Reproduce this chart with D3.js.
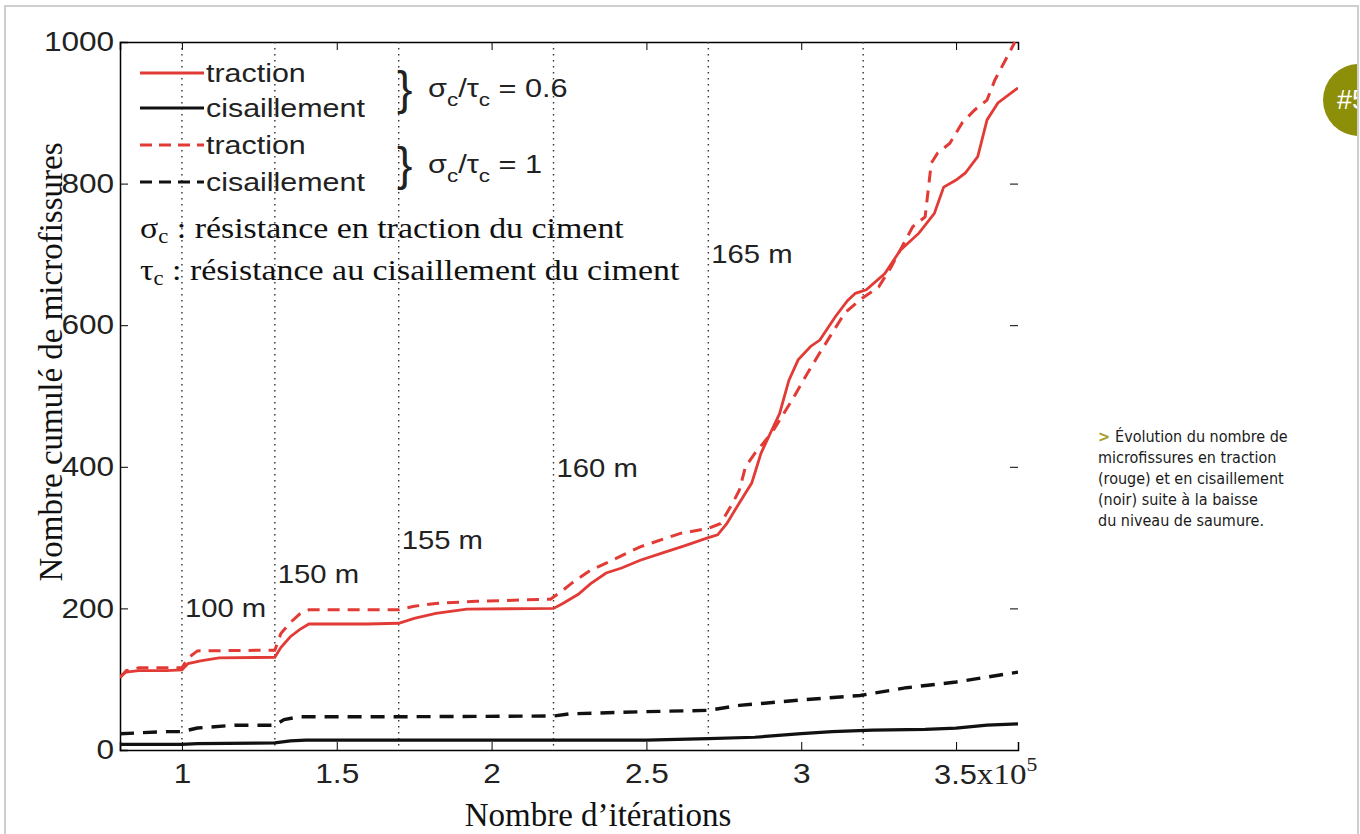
<!DOCTYPE html>
<html>
<head>
<meta charset="utf-8">
<title>Microfissures</title>
<script src="https://cdnjs.cloudflare.com/ajax/libs/d3/7.8.5/d3.min.js"></script>
<style>
  body { margin: 0; background: #fff; }
  .tick text { font-family: "Liberation Sans", Arial, sans-serif; }
</style>
</head>
<body>
<script>

// x en 1e5 itérations, y = nombre cumulé de microfissures
var tractionA = [[0.80,104],[0.82,110],[0.86,112],[0.95,112],[1.00,113],[1.02,122],[1.06,126],[1.12,130],[1.30,131],[1.32,145],[1.35,160],[1.38,170],[1.41,178],[1.60,178],[1.70,179],[1.75,186],[1.82,193],[1.92,199],[2.20,200],[2.23,207],[2.28,220],[2.32,235],[2.37,250],[2.42,257],[2.48,268],[2.55,278],[2.62,288],[2.70,300],[2.73,304],[2.76,320],[2.80,349],[2.84,377],[2.87,419],[2.905,452],[2.93,475],[2.96,522],[2.99,551],[3.03,570],[3.06,579],[3.11,612],[3.15,635],[3.175,645],[3.21,650],[3.27,673],[3.32,706],[3.38,730],[3.43,758],[3.46,795],[3.50,805],[3.53,815],[3.57,838],[3.60,890],[3.635,914],[3.69,932],[3.70,935]];
var cisailA = [[0.80,8],[1.00,8],[1.05,9],[1.30,10],[1.35,13],[1.40,14],[2.50,14],[2.70,16],[2.85,18],[3.00,23],[3.10,26],[3.23,28],[3.40,29],[3.50,31],[3.60,35],[3.70,37]];
var tractionB = [[0.80,102],[0.82,112],[0.86,116],[1.00,116],[1.02,130],[1.05,140],[1.30,141],[1.32,165],[1.35,180],[1.38,192],[1.41,198],[1.70,198],[1.75,203],[1.82,207],[1.95,210],[2.19,213],[2.22,222],[2.26,236],[2.32,254],[2.37,264],[2.48,287],[2.61,306],[2.70,313],[2.74,320],[2.78,350],[2.80,367],[2.82,400],[2.85,419],[2.905,448],[2.97,494],[3.02,532],[3.06,561],[3.10,589],[3.14,617],[3.19,636],[3.25,654],[3.29,682],[3.36,739],[3.40,753],[3.42,829],[3.44,843],[3.48,857],[3.52,886],[3.56,904],[3.60,918],[3.625,946],[3.66,975],[3.69,1000]];
var cisailB = [[0.80,23],[0.95,26],[1.00,26],[1.05,31],[1.17,35],[1.30,35],[1.33,43],[1.38,47],[1.70,47],[2.20,48],[2.25,51],[2.48,54],[2.70,56],[2.80,63],[3.01,71],[3.19,77],[3.34,88],[3.50,96],[3.60,103],[3.70,110]];

var xTicks = [1, 1.5, 2, 2.5, 3, 3.5];
var xTickLabels = ["1", "1.5", "2", "2.5", "3", "3.5"];
var yTicks = [0, 200, 400, 600, 800, 1000];

var paliers = [1.0, 1.3, 1.7, 2.2, 2.7, 3.2];
var profondeurs = ["100 m", "150 m", "155 m", "160 m", "165 m"];
var profX = [1.0, 1.3, 1.7, 2.2, 2.7];
var profY = [200, 249, 297, 398, 700];

var legende = ["traction", "cisaillement", "traction", "cisaillement"];

var legende2 = ["Évolution du nombre de", "microfissures en traction", "(rouge) et en cisaillement", "(noir) suite à la baisse", "du niveau de saumure."];

var w = 1360, h = 834;
var rouge = "#e23b36";
var SANS = "Liberation Sans, Arial, sans-serif";
var SERIF = "Liberation Serif, Times New Roman, serif";

// le texte de la figure d'origine est étiré en largeur
function etire(sel, k) {
    sel.each(function(){
        var t = d3.select(this);
        var tx = +t.attr("x") || 0, ty = +t.attr("y") || 0;
        t.attr("x", 0).attr("y", 0)
         .attr("transform", "translate(" + tx + "," + ty + ") scale(" + k + ",1)");
    });
}

var svg = d3.select("body").append("svg")
    .attr("width", w).attr("height", h);

// cadre de la page
svg.append("path")
    .attr("d", "M5,834 V6 H1358 V834")
    .attr("fill", "none").attr("stroke", "#cfcfcf").attr("stroke-width", 2);

// pastille
svg.append("clipPath").attr("id", "pastille")
    .append("rect").attr("x", 0).attr("y", 0).attr("width", 1357).attr("height", h);
var badge = svg.append("g").attr("clip-path", "url(#pastille)");
badge.append("circle").attr("cx", 1359).attr("cy", 100).attr("r", 36).attr("fill", "#8e8f08");
badge.append("text").attr("x", 1337).attr("y", 109)
    .attr("font-family", "Liberation Sans Narrow, Liberation Sans, sans-serif")
    .attr("font-size", 27).attr("fill", "#fff").text("#5");

var x = d3.scaleLinear().domain([0.8, 3.7]).range([120, 1018]);
var y = d3.scaleLinear().domain([0, 1000]).range([750, 42]);

var g = svg.append("g");

// axes
g.append("g").attr("transform", "translate(0,750)")
    .call(d3.axisBottom(x).tickValues(xTicks).tickSize(-8).tickPadding(14)
        .tickFormat(function(d, i){ return i == xTicks.length - 1 ? "" : xTickLabels[i]; }))
    .call(function(s){
        s.select(".domain").attr("stroke", "#000").attr("stroke-width", 1.5);
        s.selectAll(".tick text").attr("font-size", 27).attr("fill", "#222")
            .attr("transform", "scale(1.17,1)");
    });
g.append("g").attr("transform", "translate(0,42)")
    .call(d3.axisTop(x).tickValues(xTicks).tickSize(-8).tickFormat(""))
    .call(function(s){ s.select(".domain").attr("stroke", "#000").attr("stroke-width", 1.5); });
g.append("g").attr("transform", "translate(120,0)")
    .call(d3.axisLeft(y).tickValues(yTicks).tickSize(-8).tickPadding(5).tickFormat(d3.format("d")))
    .call(function(s){
        s.select(".domain").attr("stroke", "#000").attr("stroke-width", 1.5);
        s.selectAll(".tick text").attr("font-size", 27).attr("fill", "#222")
            .attr("transform", "scale(1.17,1)");
    });
g.append("g").attr("transform", "translate(1018,0)")
    .call(d3.axisRight(y).tickValues(yTicks.slice(1, 5)).tickSize(-8).tickFormat(""))
    .call(function(s){ s.select(".domain").remove(); });

// dernier label 3.5x10^5
var lab = g.append("text").attr("x", x(3.5) - 22).attr("y", 784)
    .attr("font-size", 27).attr("fill", "#222")
    .attr("font-family", SANS);
lab.append("tspan").text("3.5");
lab.append("tspan").attr("font-family", SERIF).attr("font-size", 29).text("x10");
lab.append("tspan").attr("font-family", SERIF).attr("font-size", 19).attr("dy", -13).text("5");
etire(lab, 1.14);

// lignes pointillées des paliers
g.selectAll(".palier").data(paliers).enter().append("line")
    .attr("x1", function(d){ return x(d); }).attr("x2", function(d){ return x(d); })
    .attr("y1", y(1000)).attr("y2", y(0))
    .attr("stroke", "#333").attr("stroke-width", 1.4).attr("stroke-dasharray", "1.5,4.5");

// profondeurs
var prof = g.selectAll(".prof").data(profondeurs).enter().append("text")
    .attr("x", function(d, i){ return x(profX[i]) + 3; })
    .attr("y", function(d, i){ return y(profY[i]) + 9; })
    .attr("font-family", SANS)
    .attr("font-size", 25).attr("fill", "#222")
    .text(function(d){ return d; });
etire(prof, 1.17);

// courbes
var line = d3.line().x(function(d){ return x(d[0]); }).y(function(d){ return y(d[1]); });
svg.append("clipPath").attr("id", "zone")
    .append("rect").attr("x", 120).attr("y", 40).attr("width", 898).attr("height", 712);
var courbes = g.append("g").attr("clip-path", "url(#zone)");

var series = [
    {d: cisailB, c: "#111", dash: "14,9", wd: 3.4},
    {d: cisailA, c: "#111", dash: null, wd: 3.2},
    {d: tractionB, c: rouge, dash: "12,8", wd: 3},
    {d: tractionA, c: rouge, dash: null, wd: 2.8}
];
courbes.selectAll(".courbe").data(series).enter().append("path")
    .attr("d", function(s){ return line(s.d); })
    .attr("fill", "none")
    .attr("stroke", function(s){ return s.c; })
    .attr("stroke-width", function(s){ return s.wd; })
    .attr("stroke-dasharray", function(s){ return s.dash; });

// légende
var legY = [73, 108, 145, 182];
var legC = [rouge, "#111", rouge, "#111"];
var legD = [null, null, "12,7", "12,7"];
var leg = g.selectAll(".leg").data(legende).enter().append("g");
leg.append("line")
    .attr("x1", 140).attr("x2", 204)
    .attr("y1", function(d, i){ return legY[i]; }).attr("y2", function(d, i){ return legY[i]; })
    .attr("stroke", function(d, i){ return legC[i]; })
    .attr("stroke-width", 3)
    .attr("stroke-dasharray", function(d, i){ return legD[i]; });
etire(leg.append("text")
    .attr("x", 206).attr("y", function(d, i){ return legY[i] + 9; })
    .attr("font-family", SANS)
    .attr("font-size", 26).attr("fill", "#222")
    .text(function(d){ return d; }), 1.17);

[0.6, 1].forEach(function(v, i){
    var cy = i == 0 ? 90 : 166;
    g.append("text").attr("x", 397).attr("y", cy + 14)
        .attr("font-family", SANS)
        .attr("font-size", 46).attr("fill", "#222").text("}");
    var t = g.append("text").attr("x", 428).attr("y", cy + 7)
        .attr("font-family", SANS)
        .attr("font-size", 26).attr("fill", "#222");
    t.append("tspan").text("σ");
    t.append("tspan").attr("font-size", 19).attr("dy", 9).text("c");
    t.append("tspan").attr("dy", -9).text("/τ");
    t.append("tspan").attr("font-size", 19).attr("dy", 9).text("c");
    t.append("tspan").attr("dy", -9).text(" = " + v);
    etire(t, 1.18);
});

var notes = [["σ", " : résistance en traction du ciment"], ["τ", " : résistance au cisaillement du ciment"]];
notes.forEach(function(n, i){
    var t = g.append("text").attr("x", 140).attr("y", 238 + i * 42)
        .attr("font-family", SERIF)
        .attr("font-size", 30).attr("fill", "#111");
    t.append("tspan").text(n[0]);
    t.append("tspan").attr("font-size", 20).attr("dy", 5).text("c");
    t.append("tspan").attr("dy", -5).text(n[1]);
    etire(t, 1.13);
});

// titres des axes
g.append("text").attr("x", 598).attr("y", 826).attr("text-anchor", "middle")
    .attr("font-family", SERIF)
    .attr("font-size", 33).attr("fill", "#111").text("Nombre d’itérations");
g.append("text").attr("transform", "translate(62,362) rotate(-90)").attr("text-anchor", "middle")
    .attr("font-family", SERIF)
    .attr("font-size", 33).attr("fill", "#111").text("Nombre cumulé de microfissures");

// légende de la figure
var cap = svg.append("text").attr("x", 1098).attr("y", 442)
    .attr("font-family", "Liberation Sans Narrow, DejaVu Sans Condensed, sans-serif")
    .attr("font-size", 16).attr("fill", "#1a1a1a");
cap.selectAll("tspan").data(legende2).enter().append("tspan")
    .attr("x", 1098)
    .attr("dy", function(d, i){ return i == 0 ? 0 : 21; })
    .each(function(d, i){
        var s = d3.select(this);
        if (i == 0) {
            s.append("tspan").attr("fill", "#a7a02a").attr("font-weight", "bold").text("> ");
            s.append("tspan").text(d);
        } else s.text(d);
    });

</script>
</body>
</html>
